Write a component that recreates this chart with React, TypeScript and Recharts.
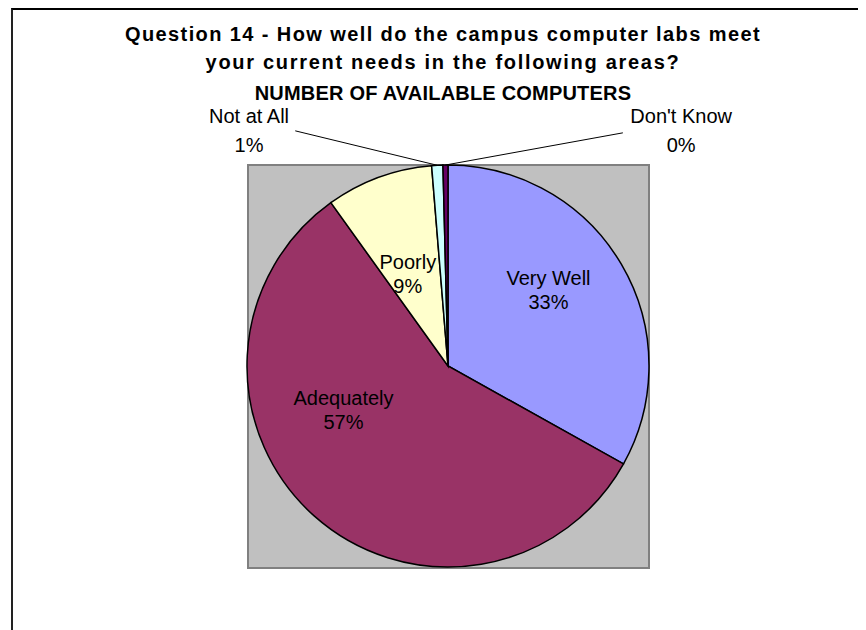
import { PieChart, Pie, Cell } from "recharts";

const categories = ["Very Well", "Adequately", "Poorly", "Not at All", "Don't Know"];
const shares = [33.1, 57.0, 8.6, 0.9, 0.4];
const sliceColors = ["#9999FF", "#993366", "#FFFFCC", "#CCFFFF", "#660066"];
const titleLines = [
  "Question 14 - How well do the campus computer labs meet",
  "your current needs in the following areas?",
  "NUMBER OF AVAILABLE COMPUTERS",
];

// label block centre and leader end, in units of the pie radius from its centre
const labelSpots = [
  { x: 0.5, y: -0.38 },
  { x: -0.52, y: 0.22 },
  { x: -0.2, y: -0.46 },
  { x: -0.99, y: -1.17, lx: -0.76, ly: -1.17 },
  { x: 1.16, y: -1.17, lx: 0.87, ly: -1.16 },
];

const data = categories.map((name, i) => ({ name, value: shares[i] }));

const FONT = "'Liberation Sans', Arial, sans-serif";
const RAD = Math.PI / 180;

const renderLabel = (props: any) => {
  const { cx, cy, outerRadius, midAngle, percent, index, name } = props;
  const spot = labelSpots[index];
  const outside = spot.lx !== undefined;
  const half = outside ? 14.5 : 12;
  const tx = cx + spot.x * outerRadius;
  const ty = cy + spot.y * outerRadius;
  const ax = cx + outerRadius * Math.cos(-midAngle * RAD);
  const ay = cy + outerRadius * Math.sin(-midAngle * RAD);
  return (
    <g key={`lbl-${index}`}>
      {outside && (
        <line
          x1={ax}
          y1={ay}
          x2={cx + spot.lx * outerRadius}
          y2={cy + spot.ly * outerRadius}
          stroke="#000"
          strokeWidth={1}
        />
      )}
      <text
        x={tx}
        y={ty - half}
        textAnchor="middle"
        dominantBaseline="central"
        fontFamily={FONT}
        fontSize={20}
        fill="#000"
      >
        {name}
      </text>
      <text
        x={tx}
        y={ty + half}
        textAnchor="middle"
        dominantBaseline="central"
        fontFamily={FONT}
        fontSize={20}
        fill="#000"
      >
        {`${Math.round(percent * 100)}%`}
      </text>
    </g>
  );
};

export default function App() {
  return (
    <div
      style={{
        position: "relative",
        width: 858,
        height: 622,
        overflow: "hidden",
        background: "#fff",
      }}
    >
      <div
        style={{
          position: "absolute",
          left: 3,
          top: 0,
          width: 1000,
          height: 1000,
          borderTop: "2px solid #000",
          borderLeft: "2px solid #222",
        }}
      />
      <div
        style={{
          position: "absolute",
          left: 239,
          top: 156,
          width: 403,
          height: 405,
          boxSizing: "border-box",
          background: "#C0C0C0",
          border: "2px solid #808080",
        }}
      />
      <div style={{ position: "absolute", left: 0, top: 0 }}>
        <PieChart width={858} height={622} margin={{ top: 0, right: 0, bottom: 0, left: 0 }}>
          <text
            x={435}
            y={33}
            textAnchor="middle"
            fontFamily={FONT}
            fontWeight="bold"
            fontSize={20}
            letterSpacing={1.4}
          >
            {titleLines[0]}
          </text>
          <text
            x={435}
            y={61}
            textAnchor="middle"
            fontFamily={FONT}
            fontWeight="bold"
            fontSize={20}
            letterSpacing={1.7}
          >
            {titleLines[1]}
          </text>
          <text
            x={435}
            y={92}
            textAnchor="middle"
            fontFamily={FONT}
            fontWeight="bold"
            fontSize={20}
            letterSpacing={0.2}
          >
            {titleLines[2]}
          </text>
          <Pie
            data={data}
            dataKey="value"
            nameKey="name"
            cx={440}
            cy={358}
            outerRadius={201}
            startAngle={90}
            endAngle={-270}
            stroke="#000"
            strokeWidth={1.5}
            label={renderLabel}
            labelLine={false}
            isAnimationActive={false}
          >
            {data.map((d, i) => (
              <Cell key={d.name} fill={sliceColors[i]} />
            ))}
          </Pie>
        </PieChart>
      </div>
    </div>
  );
}
